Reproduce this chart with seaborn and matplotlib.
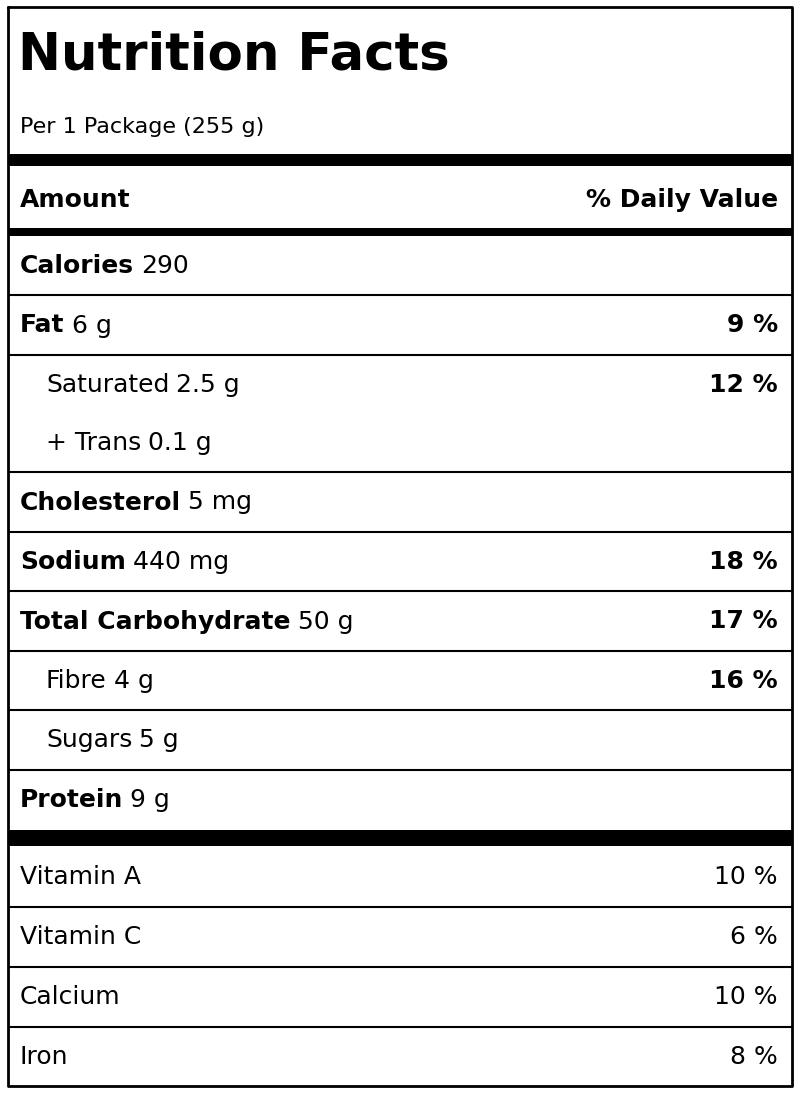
import matplotlib
matplotlib.use("Agg")
import matplotlib.pyplot as plt
import seaborn as sns

title = "Nutrition Facts"
serving = "Per 1 Package (255 g)"
nutrients = ["Calories", "Fat", "Saturated", "+ Trans", "Cholesterol", "Sodium",
             "Total Carbohydrate", "Fibre", "Sugars", "Protein"]
amounts = ["290", "6 g", "2.5 g", "0.1 g", "5 mg", "440 mg", "50 g", "4 g", "5 g", "9 g"]
daily_values = ["", "9 %", "12 %", "", "", "18 %", "17 %", "16 %", "", ""]
sub_item = [False, False, True, True, False, False, False, True, True, False]
vitamins = ["Vitamin A", "Vitamin C", "Calcium", "Iron"]
vitamin_dv = ["10 %", "6 %", "10 %", "8 %"]

sns.set_theme(style="white")
fig = plt.figure(figsize=(8, 10.93), dpi=100)
ax = fig.add_axes([0, 0, 1, 1])
ax.set_xlim(0, 800); ax.set_ylim(1093, 0); ax.axis("off")
F = "DejaVu Sans"
C = "black"
S = 18
L, R = 8, 792
ax.plot([L, R, R, L, L], [7, 7, 1086, 1086, 7], color="black", lw=2)

ax.text(18, 56, title, fontsize=37, fontweight="bold", family=F, va="center", color=C)
ax.text(20, 127, serving, fontsize=16, family=F, va="center", color=C)
ax.fill_between([L, R], 154, 166, color="black", lw=0)
ax.text(20, 200, "Amount", fontsize=S, fontweight="bold", family=F, va="center", color=C)
ax.text(778, 200, "% Daily Value", fontsize=S, fontweight="bold", family=F, va="center", ha="right", color=C)
ax.fill_between([L, R], 228, 236, color="black", lw=0)

tr = matplotlib.transforms.blended_transform_factory(matplotlib.transforms.IdentityTransform(), ax.transData)
y = 266
for i, (n, a, d, s) in enumerate(zip(nutrients, amounts, daily_values, sub_item)):
    x = 46 if s else 20
    t = ax.text(x, y, n, fontsize=S, fontweight="normal" if s else "bold", family=F, va="center", color=C)
    fig.canvas.draw()
    bb = t.get_window_extent()
    ax.text(bb.x1 + 7, y, a, fontsize=S, family=F, va="center", transform=tr, color=C)
    if d:
        ax.text(778, y, d, fontsize=S, fontweight="bold", family=F, va="center", ha="right", color=C)
    if i < len(nutrients) - 1 and not (s and n == "Saturated"):
        ax.hlines(y + 29, L, R, color="black", lw=1.5)
    y += 59.5 if i != 2 else 58
ax.fill_between([L, R], 830, 846, color="black", lw=0)

y = 877
for i, (v, d) in enumerate(zip(vitamins, vitamin_dv)):
    ax.text(20, y, v, fontsize=S, family=F, va="center", color=C)
    ax.text(778, y, d, fontsize=S, family=F, va="center", ha="right", color=C)
    if i < len(vitamins) - 1:
        ax.hlines(y + 30, L, R, color="black", lw=1.5)
    y += 60
fig.savefig("out.png", dpi=100)
